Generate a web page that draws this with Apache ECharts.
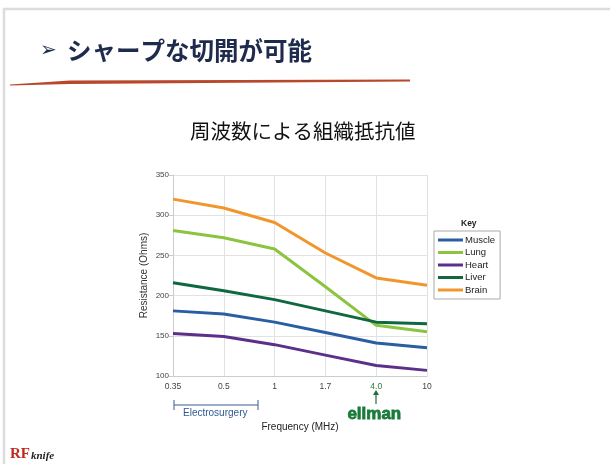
<!DOCTYPE html>
<html><head><meta charset="utf-8">
<script src="https://cdn.jsdelivr.net/npm/echarts@6/dist/echarts.min.js"></script>
<style>html,body{margin:0;padding:0;background:#fff}#c{width:610px;height:464px}</style>
</head><body><div id="c"></div>
<script>
const categories = ['0.35', '0.5', '1', '1.7', '4.0', '10'];
const muscle = [181, 177, 167, 154, 141, 135];
const lung   = [281, 272, 258, 211, 163, 155];
const heart  = [153, 149, 139, 126, 113, 107];
const liver  = [216, 206, 195, 181, 167, 165];
const brain  = [320, 309, 291, 253, 222, 213];
const yTicks = [100, 150, 200, 250, 300, 350];

const chart = echarts.init(document.getElementById('c'), null, {renderer: 'canvas'});
const mk = (name, data, color) => ({
  name, type: 'line', data, symbol: 'none', smooth: false,
  lineStyle: {width: 3, color}, itemStyle: {color}
});
chart.setOption({
  backgroundColor: '#fff',
  animation: false,
  grid: {left: 173, right: 183, top: 175, bottom: 88, containLabel: false},
  legend: {
    orient: 'vertical', left: 434, top: 231,
    data: ['Muscle', 'Lung', 'Heart', 'Liver', 'Brain'],
    icon: 'rect', itemWidth: 25, itemHeight: 3, itemGap: 2.5,
    padding: [4, 5, 4, 4],
    borderColor: '#aaa', borderWidth: 1,
    textStyle: {fontFamily: 'Liberation Sans, Arial', fontSize: 9.5, color: '#222', padding: [0, 0, 0, -3]}
  },
  xAxis: {
    type: 'category', data: categories, boundaryGap: false,
    axisLine: {lineStyle: {color: '#ccc', width: 1}},
    axisTick: {show: false},
    axisLabel: {fontFamily: 'Liberation Sans, Arial', fontSize: 8.5, color: '#444', margin: 6,
      formatter: v => v === '4.0' ? '{g|4.0}' : v,
      rich: {g: {color: '#2b7a3c', fontSize: 8.5, fontFamily: 'Liberation Sans, Arial'}}},
    splitLine: {show: true, lineStyle: {color: '#e2e2e2', width: 1}},
    name: 'Frequency (MHz)', nameLocation: 'middle', nameGap: 46,
    nameTextStyle: {fontFamily: 'Liberation Sans, Arial', fontSize: 10, color: '#222'}
  },
  yAxis: {
    type: 'value', min: yTicks[0], max: yTicks[yTicks.length - 1], interval: 50,
    axisLine: {show: true, lineStyle: {color: '#ccc'}},
    axisTick: {show: true, length: 4, lineStyle: {color: '#ccc'}},
    axisLabel: {fontFamily: 'Liberation Sans, Arial', fontSize: 8, color: '#444', margin: 4},
    splitLine: {lineStyle: {color: '#e2e2e2', width: 1}},
    name: 'Resistance (Ohms)', nameLocation: 'middle', nameGap: 24, nameRotate: 90,
    nameTextStyle: {fontFamily: 'Liberation Sans, Arial', fontSize: 10, color: '#333'}
  },
  series: [
    mk('Muscle', muscle, '#2a5ea2'),
    mk('Lung', lung, '#8cc441'),
    mk('Heart', heart, '#5c2f88'),
    mk('Liver', liver, '#10683f'),
    mk('Brain', brain, '#f0962d')
  ],
  graphic: [
    {type: 'rect', shape: {x: 4, y: 9, width: 620, height: 470}, style: {fill: 'none', stroke: '#dcdcdc', lineWidth: 2.5}, silent: true},
    {type: 'text', left: 40, top: 41, style: {text: '➢', fontSize: 20, fill: '#1f2b4d', fontFamily: 'DejaVu Sans'}},
    {type: 'text', left: 67, top: 38, style: {text: 'シャープな切開が可能', fontSize: 24.5, fontWeight: 'bold', fill: '#1f2b4d', fontFamily: 'Noto Sans CJK JP'}},
    {type: 'polygon', shape: {points: [[10, 84.5], [70, 80.5], [410, 79.5], [410, 81.5], [70, 84], [10, 85.5]]}, style: {fill: '#b8472b'}},
    {type: 'text', left: 190, top: 121, style: {text: '周波数による組織抵抗値', fontSize: 20.5, fill: '#111', fontFamily: 'Noto Sans CJK JP'}},
    {type: 'text', left: 461, top: 219, style: {text: 'Key', fontSize: 8.5, fontWeight: 'bold', fill: '#222', fontFamily: 'Liberation Sans, Arial'}},
    {type: 'line', shape: {x1: 174, y1: 405, x2: 258, y2: 405}, style: {stroke: '#3a5f8c', lineWidth: 1}},
    {type: 'line', shape: {x1: 174, y1: 400, x2: 174, y2: 410}, style: {stroke: '#3a5f8c', lineWidth: 1}},
    {type: 'line', shape: {x1: 258, y1: 400, x2: 258, y2: 410}, style: {stroke: '#3a5f8c', lineWidth: 1}},
    {type: 'text', left: 183, top: 408, style: {text: 'Electrosurgery', fontSize: 10, fill: '#2e5a8e', fontFamily: 'Liberation Sans, Arial'}},
    {type: 'line', shape: {x1: 376, y1: 392, x2: 376, y2: 404}, style: {stroke: '#1d6e3a', lineWidth: 1.2}},
    {type: 'polygon', shape: {points: [[373, 395], [376, 390], [379, 395]]}, style: {fill: '#1d6e3a'}},
    {type: 'text', left: 347, top: 405, style: {text: 'ellman', fontSize: 17, fontWeight: 'bold', fill: '#1a7a3a', fontFamily: 'Liberation Sans, Arial', stroke: '#1a7a3a', lineWidth: 0.8}},
    {type: 'text', left: 10, top: 447, style: {text: 'RF', fontSize: 15, fontWeight: 'bold', fill: '#c0281e', fontFamily: 'Liberation Serif'}},
    {type: 'text', left: 31, top: 451, style: {text: 'knife', fontSize: 11, fontStyle: 'italic', fontWeight: 'bold', fill: '#222', fontFamily: 'Liberation Serif'}}
  ]
});
</script></body></html>
